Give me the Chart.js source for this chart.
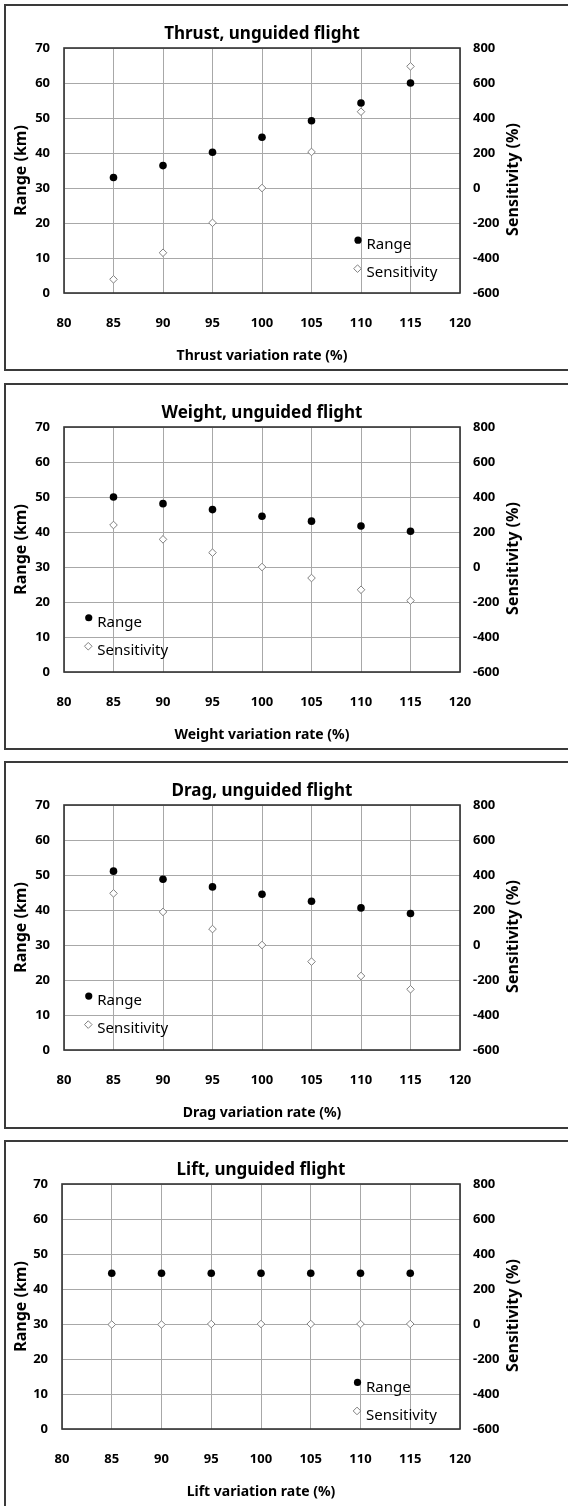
<!DOCTYPE html>
<html lang="en">
<head>
    <meta charset="UTF-8">
    <title>Unguided flight sensitivity</title>
    <script src="https://cdn.jsdelivr.net/npm/chart.js"></script>
    <style>
        body {
            margin: 0;
            width: 568px;
            height: 1506px;
            overflow: hidden;
            background: white;
            position: relative;
        }
        .panel {
            position: absolute;
            left: 4px;
            width: 620px;
            border: 2px solid #3a3a3a;
            box-sizing: border-box;
        }
        canvas {
            position: absolute;
            left: 0;
        }
    </style>
</head>
<body>
    <div class="panel" style="top:4px; height:367px"></div>
    <div class="panel" style="top:383px; height:367px"></div>
    <div class="panel" style="top:761px; height:368px"></div>
    <div class="panel" style="top:1140px; height:400px"></div>

    <canvas id="thrustChart" width="568" height="365" style="top:5px"></canvas>
    <canvas id="weightChart" width="568" height="365" style="top:384px"></canvas>
    <canvas id="dragChart" width="568" height="365" style="top:762px"></canvas>
    <canvas id="liftChart" width="568" height="365" style="top:1141px"></canvas>

    <script>
        // variation rate (%) on the x axis
        const variation = [85, 90, 95, 100, 105, 110, 115];
        const xTicks = [80, 85, 90, 95, 100, 105, 110, 115, 120];
        const rangeTicks = [0, 10, 20, 30, 40, 50, 60, 70];
        const sensTicks = [-600, -400, -200, 0, 200, 400, 600, 800];

        // Range (km) and Sensitivity (%) per parameter
        const thrustRange = [33.0, 36.4, 40.2, 44.5, 49.2, 54.3, 60.0];
        const thrustSens = [-522, -370, -199, 0, 206, 436, 695];
        const weightRange = [50.0, 48.1, 46.4, 44.5, 43.1, 41.7, 40.2];
        const weightSens = [240, 158, 82, 0, -63, -130, -192];
        const dragRange = [51.1, 48.8, 46.6, 44.5, 42.5, 40.6, 39.0];
        const dragSens = [295, 189, 91, 0, -95, -177, -253];
        const liftRange = [44.5, 44.5, 44.5, 44.5, 44.5, 44.5, 44.5];
        const liftSens = [-3, -3, 0, 0, 0, 0, 0];

        Chart.defaults.font.family = "'Noto Sans', sans-serif";
        Chart.defaults.color = '#000';

        const PLOT_TOP = 43, PLOT_BOTTOM = 288, PLOT_RIGHT = 460;

        // frame, right axis title (reads bottom-to-top) and in-plot legend
        const overlay = {
            id: 'overlay',
            afterDraw(chart, args, opts) {
                const { ctx, chartArea: ca, scales } = chart;
                ctx.save();
                ctx.strokeStyle = '#333';
                ctx.lineWidth = 1.6;
                ctx.strokeRect(ca.left, ca.top, ca.width, ca.height);

                ctx.fillStyle = '#000';
                ctx.font = "bold 16px 'Noto Sans'";
                ctx.textAlign = 'center';
                ctx.textBaseline = 'middle';
                ctx.translate(chart.width - 55, (ca.top + ca.bottom) / 2 + 9);
                ctx.rotate(-Math.PI / 2);
                ctx.fillText('Sensitivity (%)', 0, 0);
                ctx.restore();

                ctx.save();
                const lx = scales.x.getPixelForValue(opts.x);
                const ly = scales.y.getPixelForValue(opts.y);
                ctx.fillStyle = '#000';
                ctx.beginPath();
                ctx.arc(lx, ly, 3.6, 0, Math.PI * 2);
                ctx.fill();

                const dy = ly + 28.5, dx = lx - 0.5, r = 3.8;
                ctx.beginPath();
                ctx.moveTo(dx - r, dy);
                ctx.lineTo(dx, dy - r);
                ctx.lineTo(dx + r, dy);
                ctx.lineTo(dx, dy + r);
                ctx.closePath();
                ctx.fillStyle = '#fff';
                ctx.fill();
                ctx.strokeStyle = '#808080';
                ctx.lineWidth = 1;
                ctx.stroke();

                ctx.fillStyle = '#000';
                ctx.font = "15px 'Noto Sans'";
                ctx.textAlign = 'left';
                ctx.textBaseline = 'middle';
                ctx.fillText('Range', lx + 8.5, ly + 5);
                ctx.fillText('Sensitivity', lx + 8.5, ly + 33);
                ctx.restore();
            }
        };

        const tickFont = { size: 13, weight: 'bold' };
        const gridColor = '#a8a8a8';

        function makeChart(id, title, xTitle, range, sens, plotLeft, legendPos) {
            return new Chart(document.getElementById(id), {
                type: 'scatter',
                data: {
                    datasets: [
                        {
                            label: 'Range',
                            data: variation.map((v, i) => ({ x: v, y: range[i] })),
                            yAxisID: 'y',
                            pointStyle: 'circle',
                            pointRadius: 3.8,
                            backgroundColor: '#000',
                            borderWidth: 0
                        },
                        {
                            label: 'Sensitivity',
                            data: variation.map((v, i) => ({ x: v, y: sens[i] })),
                            yAxisID: 'y2',
                            pointStyle: 'rectRot',
                            pointRadius: 3.8,
                            backgroundColor: '#fff',
                            borderColor: '#808080',
                            borderWidth: 1
                        }
                    ]
                },
                options: {
                    responsive: false,
                    animation: false,
                    layout: { padding: 0 },
                    plugins: {
                        legend: { display: false },
                        tooltip: { enabled: false },
                        title: {
                            display: true,
                            text: title,
                            fullSize: false,
                            color: '#000',
                            font: { size: 17, weight: 'bold' },
                            padding: { top: 18.8, bottom: PLOT_TOP - 18.8 - 17 * 1.2 }
                        },
                        overlay: legendPos
                    },
                    scales: {
                        x: {
                            type: 'linear',
                            min: 80,
                            max: 120,
                            afterBuildTicks: s => { s.ticks = xTicks.map(v => ({ value: v })); },
                            afterFit: s => { s.height = 365 - PLOT_BOTTOM; },
                            grid: { color: gridColor, drawTicks: false },
                            border: { display: false },
                            ticks: { padding: 22, font: tickFont },
                            title: {
                                display: true,
                                text: xTitle,
                                font: { size: 14, weight: 'bold' },
                                padding: { top: 0, bottom: 5.6 }
                            }
                        },
                        y: {
                            position: 'left',
                            min: 0,
                            max: 70,
                            afterBuildTicks: s => { s.ticks = rangeTicks.map(v => ({ value: v })); },
                            afterFit: s => { s.width = plotLeft; },
                            grid: { color: gridColor, drawTicks: false },
                            border: { display: false },
                            ticks: { padding: 14, font: tickFont },
                            title: {
                                display: true,
                                text: 'Range (km)',
                                font: { size: 16, weight: 'bold' },
                                padding: { top: 11.4, bottom: 0 }
                            }
                        },
                        y2: {
                            position: 'right',
                            min: -600,
                            max: 800,
                            afterBuildTicks: s => { s.ticks = sensTicks.map(v => ({ value: v })); },
                            afterFit: s => { s.width = 568 - PLOT_RIGHT; },
                            grid: { display: false, drawTicks: false },
                            border: { display: false },
                            ticks: { padding: 13, font: tickFont }
                        }
                    }
                },
                plugins: [overlay]
            });
        }

        makeChart('thrustChart', 'Thrust, unguided flight', 'Thrust variation rate (%)',
            thrustRange, thrustSens, 64, { x: 109.7, y: 15.1 });
        makeChart('weightChart', 'Weight, unguided flight', 'Weight variation rate (%)',
            weightRange, weightSens, 64, { x: 82.5, y: 15.5 });
        makeChart('dragChart', 'Drag, unguided flight', 'Drag variation rate (%)',
            dragRange, dragSens, 64, { x: 82.5, y: 15.4 });
        makeChart('liftChart', 'Lift, unguided flight', 'Lift variation rate (%)',
            liftRange, liftSens, 62, { x: 109.7, y: 13.3 });
    </script>
</body>
</html>
